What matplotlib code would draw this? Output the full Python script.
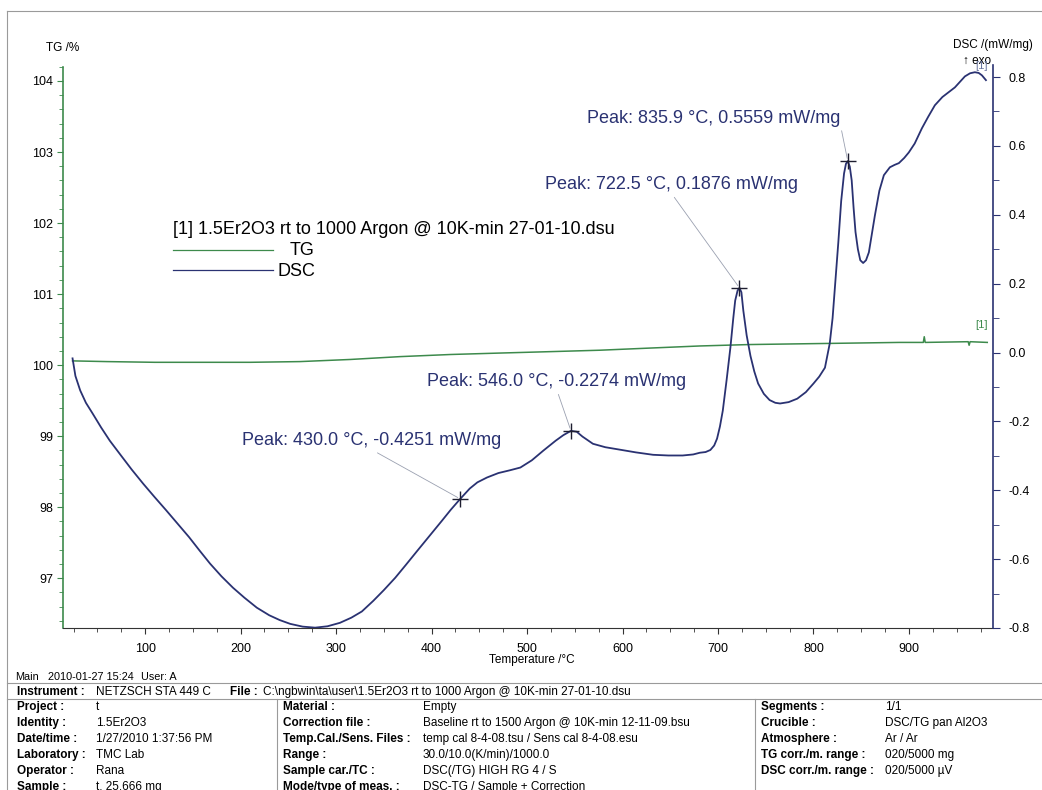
import matplotlib.pyplot as plt
from matplotlib.lines import Line2D
from matplotlib.ticker import MultipleLocator

plt.rcParams['font.family'] = ['Liberation Sans', 'DejaVu Sans']

# DSC curve: temperature /°C and signal /(mW/mg)
dsc_temp = [24, 27, 32, 38, 45, 54, 63, 75, 86, 98,
            110, 122, 134, 146, 157, 168, 180, 192, 204, 217,
            230, 241, 252, 265, 278, 291, 304, 316, 327, 339,
            350, 362, 373, 385, 398, 411, 420, 430.0, 440, 448,
            458, 470, 482, 493, 505, 517, 530, 538, 546.0, 552,
            558, 569, 582, 597, 614, 632, 648, 663, 674, 681,
            687, 692, 696, 699, 702, 705, 709, 713, 716, 718,
            720.5, 722.5, 724.5, 726.5, 730, 734, 738, 742, 748, 754,
            760, 765, 774, 783, 792, 800, 806, 812, 817, 820,
            823, 826, 829, 832, 834, 835.9, 838, 840, 842, 844,
            846.5, 849, 852, 855, 858, 864.3, 869, 873.7, 880, 885,
            889.4, 895, 899.8, 906, 913.5, 920, 927.1, 935, 948.1, 954,
            958.6, 964, 969, 973, 976.4, 980.6]
dsc_vals = [-0.017, -0.068, -0.110, -0.146, -0.177, -0.218, -0.256, -0.300, -0.340, -0.381,
            -0.420, -0.458, -0.497, -0.536, -0.575, -0.613, -0.650, -0.683, -0.712, -0.741,
            -0.763, -0.777, -0.788, -0.796, -0.799, -0.795, -0.785, -0.770, -0.752, -0.721,
            -0.690, -0.654, -0.617, -0.576, -0.532, -0.488, -0.457, -0.4251, -0.395, -0.377,
            -0.363, -0.350, -0.342, -0.334, -0.313, -0.285, -0.256, -0.240, -0.2274, -0.230,
            -0.244, -0.265, -0.275, -0.282, -0.290, -0.297, -0.299, -0.299, -0.296, -0.291,
            -0.289, -0.283, -0.270, -0.250, -0.215, -0.169, -0.080, 0.015, 0.100, 0.151,
            0.180, 0.1876, 0.175, 0.122, 0.050, -0.010, -0.055, -0.090, -0.120, -0.138,
            -0.146, -0.148, -0.144, -0.134, -0.115, -0.090, -0.070, -0.044, 0.026, 0.100,
            0.210, 0.320, 0.440, 0.520, 0.548, 0.5559, 0.540, 0.500, 0.420, 0.350,
            0.300, 0.268, 0.260, 0.268, 0.291, 0.398, 0.470, 0.515, 0.538, 0.545,
            0.550, 0.565, 0.581, 0.607, 0.651, 0.684, 0.718, 0.742, 0.770, 0.788,
            0.802, 0.811, 0.814, 0.812, 0.805, 0.791]

# TG curve: temperature /°C and mass /%
tg_temp = [24, 60, 110, 157, 210, 262, 315, 367, 420, 471, 524, 576, 628, 681,
           733, 785, 838, 890, 915, 916, 917, 962, 963, 964, 982]
tg_vals = [100.06, 100.05, 100.04, 100.04, 100.04, 100.05, 100.08, 100.12, 100.15, 100.17,
           100.19, 100.21, 100.24, 100.27, 100.29, 100.30, 100.31, 100.32,
           100.32, 100.40, 100.32, 100.33, 100.28, 100.33, 100.32]

# peaks
peak_temp = [430.0, 546.0, 722.5, 835.9]
peak_dsc = [-0.4251, -0.2274, 0.1876, 0.5559]

# footer info
header = ['Main', '2010-01-27 15:24', 'User: A']
instrument = 'NETZSCH STA 449 C'
file_name = 'C:\\ngbwin\\ta\\user\\1.5Er2O3 rt to 1000 Argon @ 10K-min 27-01-10.dsu'
col1_labels = ['Project :', 'Identity :', 'Date/time :', 'Laboratory :', 'Operator :', 'Sample :']
col1_values = ['t', '1.5Er2O3', '1/27/2010 1:37:56 PM', 'TMC Lab', 'Rana', 't, 25.666 mg']
col2_labels = ['Material :', 'Correction file :', 'Temp.Cal./Sens. Files :', 'Range :',
               'Sample car./TC :', 'Mode/type of meas. :']
col2_values = ['Empty', 'Baseline rt to 1500 Argon @ 10K-min 12-11-09.bsu',
               'temp cal 8-4-08.tsu / Sens cal 8-4-08.esu', '30.0/10.0(K/min)/1000.0',
               'DSC(/TG) HIGH RG 4 / S', 'DSC-TG / Sample + Correction']
col3_labels = ['Segments :', 'Crucible :', 'Atmosphere :', 'TG corr./m. range :', 'DSC corr./m. range :']
col3_values = ['1/1', 'DSC/TG pan Al2O3', 'Ar / Ar', '020/5000 mg', '020/5000 µV']

navy = '#2a3272'
green = '#3d8a4c'
gray = '#9a9a9a'

W, H = 1042, 790
fig = plt.figure(figsize=(W / 100, H / 100), dpi=100)


def fx(px):
    return px / W


def fy(py):
    return 1 - py / H


ax = fig.add_axes([fx(63), fy(628), fx(993) - fx(63), fy(65) - fy(628)])
ax2 = ax.twinx()

ax.plot(tg_temp, tg_vals, color=green, lw=1.1)
ax2.plot(dsc_temp, dsc_vals, color=navy, lw=1.3)
ax2.plot(peak_temp, peak_dsc, '+', color='#1e1e30', ms=11, mew=1.0)

ax.set_xlim(14, 988)
ax.set_ylim(96.3, 104.225)
ax2.set_ylim(-0.8, 0.835)

ax.xaxis.set_major_locator(MultipleLocator(100))
ax.xaxis.set_minor_locator(MultipleLocator(25))
ax.yaxis.set_major_locator(MultipleLocator(1))
ax.yaxis.set_minor_locator(MultipleLocator(0.2))
ax2.yaxis.set_major_locator(MultipleLocator(0.2))
ax2.yaxis.set_minor_locator(MultipleLocator(0.1))
ax2.yaxis.set_major_formatter(plt.FuncFormatter(lambda v, p: f'{v:.1f}'))

for s in ['top', 'right']:
    ax.spines[s].set_visible(False)
for s in ['top', 'left', 'bottom']:
    ax2.spines[s].set_visible(False)
ax.spines['left'].set_color(green)
ax.spines['left'].set_linewidth(1.2)
ax.spines['left'].set_bounds(96.3, 104.2)
ax.spines['bottom'].set_color('#333333')
ax2.spines['right'].set_color(navy)
ax2.spines['right'].set_linewidth(1.2)

ax.tick_params(axis='x', which='major', direction='out', length=4, pad=7, labelsize=9, color='#333333')
ax.tick_params(axis='x', which='minor', direction='out', length=3, color='#333333')
ax.tick_params(axis='y', which='major', direction='out', length=4, pad=3, labelsize=9, color=green)
ax.tick_params(axis='y', which='minor', direction='out', length=3, color=green)
ax2.tick_params(axis='y', which='major', direction='out', length=5, pad=6, labelsize=9, color=navy)
ax2.tick_params(axis='y', which='minor', direction='out', length=4, color=navy)

# peak labels
for t, d, off, ha, rel in zip(peak_temp, peak_dsc,
                              [(-89, 58), (-14, 49), (-68, 103), (-7, 43)],
                              ['center', 'center', 'center', 'right'],
                              [(0.5, 0), (0.5, 0), (0.5, 0), (1, 0)]):
    ax2.annotate(f'Peak: {t:.1f} °C, {d:.4f} mW/mg', xy=(t, d), xytext=off,
                 textcoords='offset pixels', ha=ha, va='center', fontsize=13, color=navy,
                 arrowprops=dict(arrowstyle='-', color='#9aa0b0', lw=0.6, relpos=rel,
                                 shrinkA=1, shrinkB=2))

# axis titles
fig.text(fx(46), fy(48), 'TG /%', fontsize=8.5, va='center')
fig.text(fx(1033), fy(45), 'DSC /(mW/mg)', fontsize=8.5, va='center', ha='right')
fig.text(fx(963), fy(61), '↑ exo', fontsize=8.5, va='center')
fig.text(fx(975), fy(66), '[1]', fontsize=8, va='center', color='#6a76a0')
fig.text(fx(975), fy(325), '[1]', fontsize=8, va='center', color=green)
fig.text(fx(532), fy(660), 'Temperature /°C', fontsize=8.5, va='center', ha='center')

# legend
fig.text(fx(173), fy(230), '[1] 1.5Er2O3 rt to 1000 Argon @ 10K-min 27-01-10.dsu', fontsize=13, va='center')
fig.add_artist(Line2D([fx(173), fx(273)], [fy(250), fy(250)], color=green, lw=0.9))
fig.add_artist(Line2D([fx(173), fx(273)], [fy(270), fy(270)], color=navy, lw=0.9))
fig.text(fx(315), fy(251), 'TG', fontsize=13, va='center', ha='right')
fig.text(fx(315), fy(271), 'DSC', fontsize=13, va='center', ha='right')

# frame and footer lines
fig.add_artist(Line2D([fx(7), 1], [fy(11), fy(11)], color=gray, lw=0.8))
fig.add_artist(Line2D([fx(7), fx(7)], [fy(11), 0], color=gray, lw=0.8))
fig.add_artist(Line2D([fx(7), 1], [fy(683), fy(683)], color=gray, lw=0.8))
fig.add_artist(Line2D([fx(7), 1], [fy(699), fy(699)], color=gray, lw=0.8))
fig.add_artist(Line2D([fx(277), fx(277)], [fy(699), 0], color=gray, lw=0.8))
fig.add_artist(Line2D([fx(755), fx(755)], [fy(699), 0], color=gray, lw=0.8))

for txt, x in zip(header, [15, 48, 141]):
    fig.text(fx(x), fy(677), txt, fontsize=7.8, va='center')

fig.text(fx(17), fy(692), 'Instrument :', fontsize=8.5, fontweight='bold', va='center')
fig.text(fx(96), fy(692), instrument, fontsize=8.5, va='center')
fig.text(fx(230), fy(692), 'File :', fontsize=8.5, fontweight='bold', va='center')
fig.text(fx(263), fy(692), file_name, fontsize=8.5, va='center')

for labels, values, xl, xv in [(col1_labels, col1_values, 17, 96),
                               (col2_labels, col2_values, 283, 423),
                               (col3_labels, col3_values, 761, 885)]:
    for i, (lab, val) in enumerate(zip(labels, values)):
        y = 707 + i * 16
        fig.text(fx(xl), fy(y), lab, fontsize=8.5, fontweight='bold', va='center')
        fig.text(fx(xv), fy(y), val, fontsize=8.5, va='center')

fig.savefig('out.png', dpi=100)
